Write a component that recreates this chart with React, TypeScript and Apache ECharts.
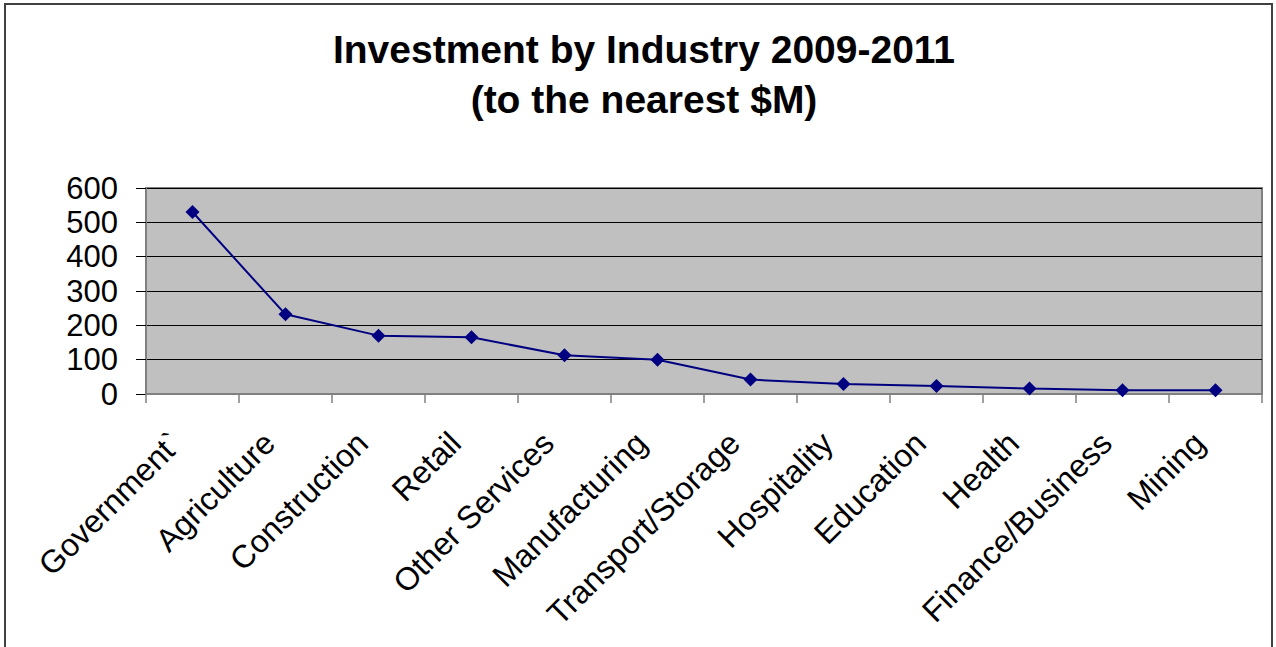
import React, { useEffect, useRef } from "react";
import * as echarts from "echarts";

const categories = [
  "Government`",
  "Agriculture",
  "Construction",
  "Retail",
  "Other Services",
  "Manufacturing",
  "Transport/Storage",
  "Hospitality",
  "Education",
  "Health",
  "Finance/Business",
  "Mining",
];
const investment = [530, 232, 170, 165, 113, 100, 42, 29, 23, 16, 11, 11];
const titleLines = ["Investment by Industry 2009-2011", "(to the nearest $M)"];

const FONT = "'Liberation Sans', Arial, sans-serif";

export default function App() {
  const ref = useRef<HTMLDivElement>(null);
  useEffect(() => {
    if (!ref.current) return;
    const chart = echarts.init(ref.current, undefined, { renderer: "svg" });
    chart.setOption({
      animation: false,
      backgroundColor: "#ffffff",
      title: {
        text: titleLines.join("\n"),
        left: 644,
        textAlign: "center",
        top: 24,
        padding: 0,
        textStyle: {
          fontFamily: FONT,
          fontSize: 39,
          fontWeight: "bold",
          color: "#000",
          lineHeight: 50,
        },
      },
      graphic: [
        {
          type: "rect",
          shape: { x: 5, y: 4, width: 1267, height: 700 },
          style: { fill: "none", stroke: "#404040", lineWidth: 2 },
          silent: true,
        },
      ],
      grid: {
        left: 146,
        right: 14,
        top: 188,
        bottom: 253,
        show: true,
        backgroundColor: "#c0c0c0",
        borderColor: "#808080",
        borderWidth: 2,
      },
      xAxis: {
        type: "category",
        data: categories,
        boundaryGap: true,
        axisLine: { show: true, lineStyle: { color: "#808080", width: 2 } },
        axisTick: { show: true, length: 9, lineStyle: { color: "#808080", width: 1.5 } },
        axisLabel: {
          rotate: 45,
          interval: 0,
          margin: 50,
          verticalAlign: "bottom",
          padding: [0, 7, 0, 0],
          fontFamily: FONT,
          fontSize: 32,
          color: "#000",
        },
        splitLine: { show: false },
      },
      yAxis: {
        type: "value",
        min: 0,
        max: 600,
        interval: 100,
        axisLine: { show: true, lineStyle: { color: "#808080", width: 2 } },
        axisTick: { show: true, length: 10, lineStyle: { color: "#000", width: 1 } },
        axisLabel: {
          margin: 28,
          fontFamily: FONT,
          fontSize: 31,
          color: "#000",
        },
        splitLine: { show: true, lineStyle: { color: "#000", width: 1 } },
      },
      series: [
        {
          type: "line",
          data: investment,
          symbol: "diamond",
          symbolSize: 14,
          lineStyle: { color: "#000080", width: 2 },
          itemStyle: { color: "#000080" },
        },
      ],
    });
    return () => chart.dispose();
  }, []);
  return (
    <div
      ref={ref}
      style={{ position: "fixed", left: 0, top: 0, width: 1276, height: 647 }}
    />
  );
}
